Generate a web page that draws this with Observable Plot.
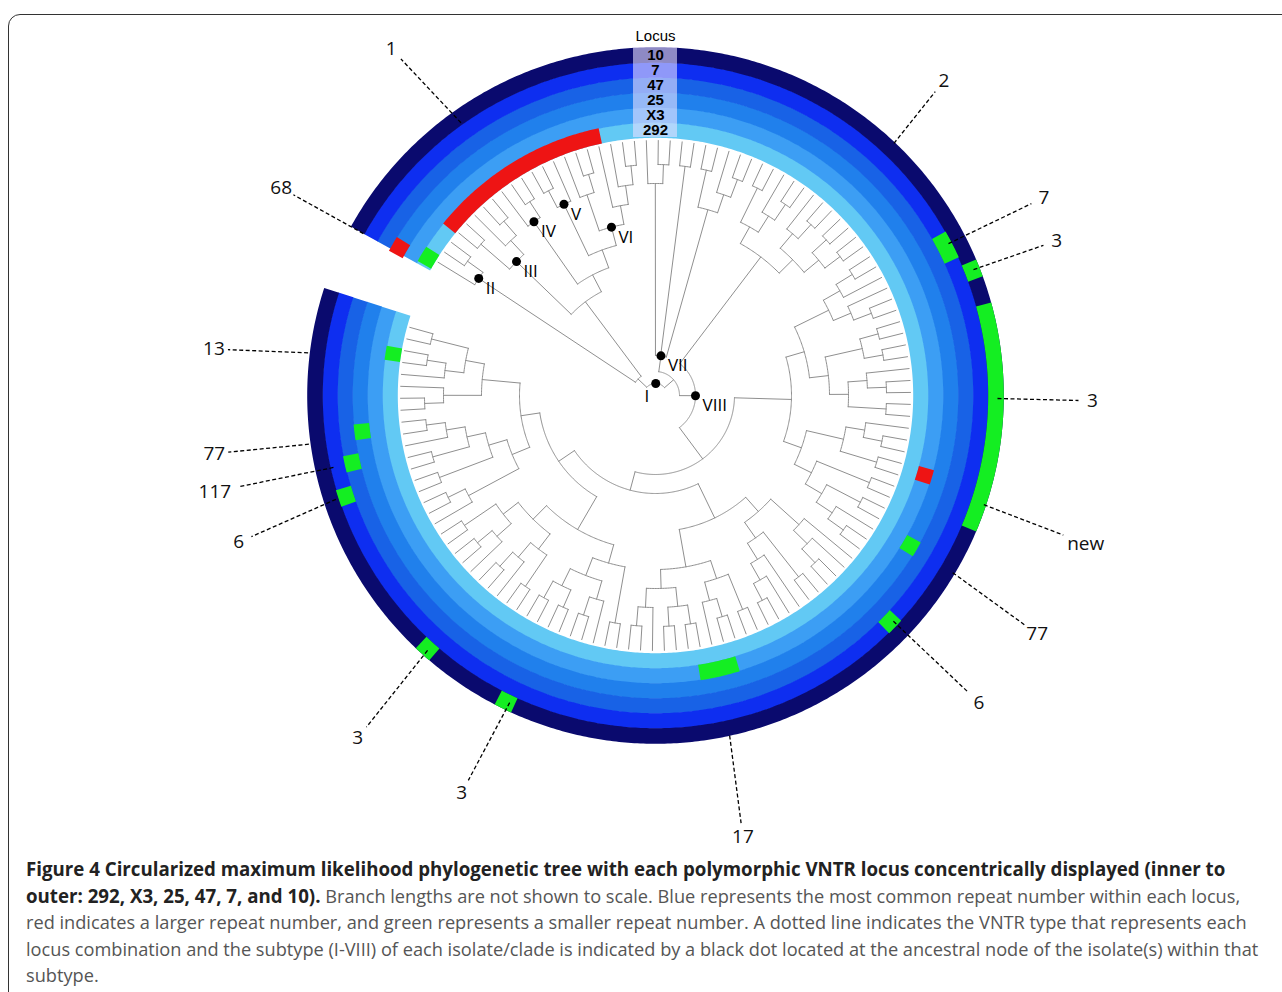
<!DOCTYPE html>
<html><head><meta charset="utf-8">
<script src="https://cdn.jsdelivr.net/npm/d3@7"></script>
<script src="https://cdn.jsdelivr.net/npm/@observablehq/plot@0.6"></script>
<style>
body{margin:0;background:#fff;font-family:"Open Sans",sans-serif;}
#frame{position:absolute;left:8px;top:14px;width:1300px;height:990px;border:1.5px solid #333;border-radius:12px;}
#chart{position:absolute;left:0;top:0;}
#cap{position:absolute;left:26px;top:856px;width:1246px;font-size:18.2px;line-height:26.5px;color:#555;}
#cap b{color:#222;font-size:18.7px;}
</style></head><body>
<div id="frame"></div>
<div id="chart"></div>
<div id="cap"><b>Figure 4 Circularized maximum likelihood phylogenetic tree with each polymorphic VNTR locus concentrically displayed (inner to outer: 292, X3, 25, 47, 7, and 10).</b> Branch lengths are not shown to scale. Blue represents the most common repeat number within each locus, red indicates a larger repeat number, and green represents a smaller repeat number. A dotted line indicates the VNTR type that represents each locus combination and the subtype (I-VIII) of each isolate/clade is indicated by a black dot located at the ancestral node of the isolate(s) within that subtype.</div>
<script>
// ---------- data ----------
const loci = ["292","X3","25","47","7","10"]; // inner to outer
const baseColors = ["#62c9f4","#3c9ef4","#2080ec","#1862e6","#0e2ef0","#0a0a6e"];
const ringStart = 299, ringEnd = 648; // degrees clockwise from top (gap 288-299)
const variants = [
  {locus:"292", a0:309, a1:348, kind:"larger"},
  {locus:"292", a0:299.5, a1:303, kind:"smaller"},
  {locus:"292", a0:277.5, a1:280.5, kind:"smaller"},
  {locus:"X3", a0:105, a1:108, kind:"larger"},
  {locus:"X3", a0:163, a1:171, kind:"smaller"},
  {locus:"25", a0:298.5, a1:301.5, kind:"larger"},
  {locus:"25", a0:261.5, a1:264.5, kind:"smaller"},
  {locus:"25", a0:119, a1:122, kind:"smaller"},
  {locus:"47", a0:256, a1:259, kind:"smaller"},
  {locus:"7", a0:250.5, a1:253.5, kind:"smaller"},
  {locus:"7", a0:60.5, a1:65.5, kind:"smaller"},
  {locus:"7", a0:132.5, a1:135.5, kind:"smaller"},
  {locus:"10", a0:67, a1:70, kind:"smaller"},
  {locus:"10", a0:74.5, a1:113, kind:"smaller"},
  {locus:"10", a0:220.5, a1:223.5, kind:"smaller"},
  {locus:"10", a0:204.5, a1:207.5, kind:"smaller"}
];
const kindColor = {larger:"#ee1414", smaller:"#14ee22"};
const callouts = [
  {label:"1", pa:324.5, pr:335, la:322.7, lr:436},
  {label:"2", pa:43.4, pr:347, la:42.5, lr:427},
  {label:"7", pa:62.6, pr:330, la:63, lr:436},
  {label:"3", pa:68.4, pr:342, la:68.9, lr:430},
  {label:"3", pa:90.5, pr:342, la:90.7, lr:437},
  {label:"new", pa:108.4, pr:346, la:109, lr:455},
  {label:"77", pa:120.8, pr:346, la:122, lr:450},
  {label:"6", pa:133.5, pr:328, la:133.5, lr:446},
  {label:"17", pa:167.7, pr:348, la:168.8, lr:450},
  {label:"3", pa:205.4, pr:340, la:206, lr:442},
  {label:"3", pa:221.8, pr:342, la:221, lr:454},
  {label:"6", pa:252, pr:336, la:250.6, lr:442},
  {label:"117", pa:257.4, pr:330, la:257.7, lr:451},
  {label:"77", pa:262, pr:350, la:262.5, lr:445},
  {label:"13", pa:277, pr:350, la:276, lr:444},
  {label:"68", pa:299, pr:334, la:299, lr:428}
];
const cladeA = "((a,(a,a))II,(((a,a),(a,(a,a)))III,((a,(a,a))IV,(((a,a),a)V,((a,(a,a)),(a,(a,(a,a))))VI))))";
const cladeB = "((a,(a,a)),(a,a),((a,a),(a,(a,a))))VII";
const c = [
 "(((a,a),(a,(a,a))),((a,(a,a)),((a,a),(a,a))))",
 "((((a,a),a),(a,(a,a))),(((a,a),(a,a)),((a,(a,a)),(a,a))))",
 "(((a,(a,a)),(a,a)),((a,a),((a,a),(a,(a,a)))))",
 "((a,(a,(a,a))),((a,a),(a,(a,(a,a)))))",
 "(((a,a),((a,a),a)),(((a,a),(a,a)),(a,(a,a))))",
 "((a,a),((a,(a,a)),((a,a),(a,a))))",
 "(((a,a),(a,(a,a))),((a,(a,a)),(a,a)))",
 "((a,(a,a)),((a,a),((a,a),(a,(a,a)))))",
 "(((a,a),a),((a,(a,a)),(a,a)))"
];
const cladeC = `(${c[0]},((${c[1]},${c[2]}),((${c[3]},${c[4]}),((${c[5]},${c[6]}),(${c[7]},${c[8]})))))VIII`;
const newick = `(${cladeA},(${cladeB},${cladeC}))I`;

// ---------- geometry ----------
const W = 1282, H = 850, cx = 655, cy = 395;
const r0 = 258, dr = 15;
const P = (a, r) => { const t = a*Math.PI/180; return [cx + r*Math.sin(t), cy - r*Math.cos(t)]; };
function arcPts(a0, a1, r, id, extra) {
  const n = Math.max(2, Math.ceil(Math.abs(a1-a0)/0.5)+1), out = [];
  for (let k=0;k<n;k++){ const a=a0+(a1-a0)*k/(n-1); const [x,y]=P(a,r); out.push({id,x,y,...extra}); }
  return out;
}
let ringRows = [];
loci.forEach((l,i)=> ringRows.push(...arcPts(ringStart, ringEnd, r0+dr*i+dr/2, "base"+l, {color:baseColors[i]})));
variants.forEach((v,j)=>{ const i=loci.indexOf(v.locus); ringRows.push(...arcPts(v.a0, v.a1, r0+dr*i+dr/2, "v"+j, {color:kindColor[v.kind]})); });

function parse(s){ let i=0; function node(){ const n={children:[]}; if(s[i]==="("){ i++; n.children.push(node()); while(s[i]===","){i++; n.children.push(node());} i++; } else { while(/[a-z]/.test(s[i])) i++; } let lab=""; while(i<s.length && /[A-Z]/.test(s[i])) lab+=s[i++]; n.label=lab; return n; } return node(); }
const root = d3.hierarchy(parse(newick), d=>d.children.length?d.children:null);
const leaves = root.leaves();
const la0 = 301.5, la1 = 645.5;
leaves.forEach((d,k)=> d.ang = la0 + (la1-la0)*k/(leaves.length-1));
const inA = d => d.ancestors().includes(root.children[0]);
root.eachAfter(d=>{
  if(d.children){ d.ang=(d.children[0].ang+d.children[d.children.length-1].ang)/2; }
  if(!d.children) d.r = 255;
  else if(!d.parent) d.r = 12;
  else if(d.depth===1) d.r = 24;
  else if(d.depth===2 && !inA(d)) d.r = 40;
  else d.r = Math.max(50, 250-19*d.height);
});
let treeRows = [], idc = 0;
root.each(d=>{
  if (d.children){ treeRows.push(...arcPts(d.children[0].ang, d.children[d.children.length-1].ang, d.r, "t"+(idc++))); }
  if (d.parent){ const id="t"+(idc++); [[d.ang,d.parent.r],[d.ang,d.r]].forEach(([a,r])=>{const [x,y]=P(a,r); treeRows.push({id,x,y});}); }
});
const subtypes = root.descendants().filter(d=>d.data.label).map(d=>{const [x,y]=P(d.ang,d.r); return {label:d.data.label,x,y};});

const callRows = callouts.map(o=>{ const [x1,y1]=P(o.pa,o.pr); const [lx,ly]=P(o.la,o.lr); const dx=x1-lx, dy=y1-ly, L=Math.hypot(dx,dy); const s=o.label.length>2?24:14; return {label:o.label,x1,y1,lx,ly,x2:lx+dx*s/L,y2:ly+dy*s/L}; });
const locusRows = loci.map((l,i)=>{ const [x,y]=P(0, r0+dr*i+dr/2); return {label:l,x,y}; });
const [tx,ty] = P(0, r0+dr*6+11);

const chart = Plot.plot({
  width: W, height: H, margin: 0,
  x: {domain:[0,W], range:[0,W], axis:null},
  y: {domain:[0,H], range:[0,H], axis:null},
  style:{background:"transparent"},
  marks: [
    Plot.line(treeRows, {x:"x", y:"y", z:"id", stroke:"#8f8f8f", strokeWidth:1}),
    Plot.line(ringRows, {x:"x", y:"y", z:"id", stroke:"color", strokeWidth:dr+0.6, strokeLinecap:"butt"}),
    Plot.rect([0], {x1:cx-22, x2:cx+22, y1:cy-(r0+dr*6), y2:cy-r0, fill:"#e6e0ff", fillOpacity:0.6}),
    Plot.text(locusRows, {x:"x", y:"y", text:"label", fontWeight:"bold", fontSize:15, fontFamily:"Liberation Sans", fill:"#000"}),
    Plot.text(["Locus"], {x:tx, y:ty, text:d=>d, fontSize:15, fontFamily:"Liberation Sans", fill:"#000"}),
    Plot.link(callRows, {x1:"x1", y1:"y1", x2:"x2", y2:"y2", stroke:"#000", strokeWidth:1.3, strokeDasharray:"4,2.5"}),
    Plot.text(callRows, {x:"lx", y:"ly", text:"label", fontSize:19, fontFamily:"Open Sans", fill:"#111"}),
    Plot.dot(subtypes, {x:"x", y:"y", r:4.5, fill:"#000"}),
    Plot.text(subtypes.filter(d=>d.label!=="I"), {x:"x", y:"y", text:"label", dx:7, dy:10, textAnchor:"start", fontSize:17, fontFamily:"Open Sans", fill:"#000"}),
    Plot.text(subtypes.filter(d=>d.label==="I"), {x:"x", y:"y", text:"label", dx:-9, dy:13, textAnchor:"middle", fontSize:17, fontFamily:"Open Sans", fill:"#000"})
  ]
});
document.getElementById("chart").append(chart);
</script>
</body></html>
